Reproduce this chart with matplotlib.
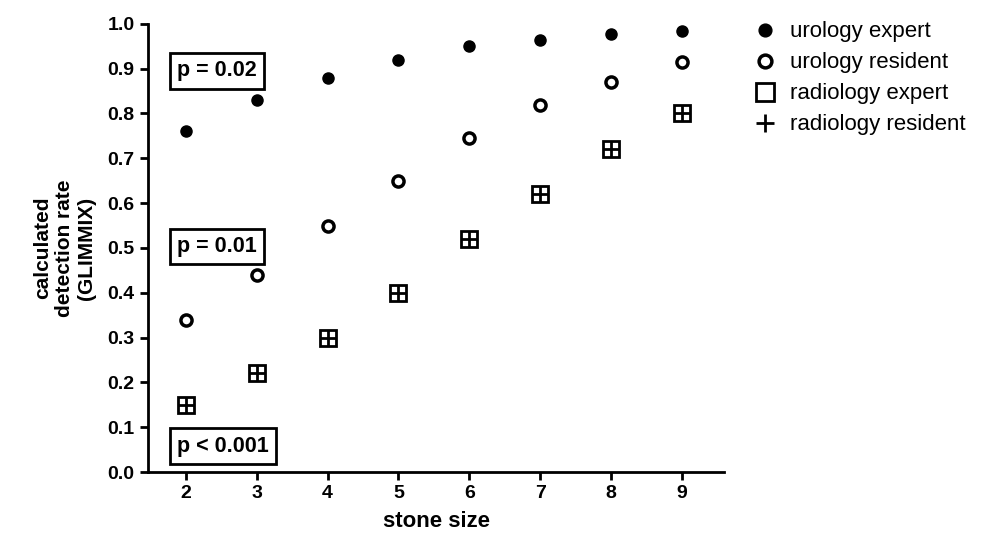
import matplotlib.pyplot as plt
import numpy as np

plt.rcParams['font.family'] = ['Liberation Sans', 'DejaVu Sans']

# stone sizes on x axis
stone_size = [2, 3, 4, 5, 6, 7, 8, 9]

# calculated detection rates
urology_expert = [0.76, 0.83, 0.88, 0.92, 0.95, 0.965, 0.978, 0.985]
urology_resident = [0.34, 0.44, 0.55, 0.65, 0.745, 0.82, 0.87, 0.915]
radiology_expert = [0.15, 0.22, 0.30, 0.40, 0.52, 0.62, 0.72, 0.80]
radiology_resident = [0.15, 0.22, 0.30, 0.40, 0.52, 0.62, 0.72, 0.80]

# p-value boxes (label, y position)
p_labels = ['p = 0.02', 'p = 0.01', 'p < 0.001']
p_y = [0.895, 0.504, 0.058]

fig = plt.figure(figsize=(9.91, 5.42), dpi=100)
ax = fig.add_axes([0.149, 0.129, 0.582, 0.827])

ax.plot(stone_size, urology_expert, 'o', color='black', markersize=8, linestyle='None', label='urology expert')
ax.plot(stone_size, urology_resident, 'o', markerfacecolor='white', markeredgecolor='black',
        markeredgewidth=2.5, markersize=8, linestyle='None', label='urology resident')
ax.plot(stone_size, radiology_expert, 's', markerfacecolor='white', markeredgecolor='black',
        markeredgewidth=2, markersize=11, linestyle='None', label='radiology expert')
ax.plot(stone_size, radiology_resident, '+', color='black', markeredgewidth=2,
        markersize=11, linestyle='None', label='radiology resident')

#boxed p-values on the left
for lab, y in zip(p_labels, p_y):
    ax.text(1.87, y, lab, fontsize=15.5, fontweight='bold', va='center', ha='left',
            bbox=dict(boxstyle='square,pad=0.33', facecolor='white', edgecolor='black', linewidth=2))

ax.set_xlim(1.46, 9.6)
ax.set_ylim(0, 1.0)
ax.set_xticks(stone_size)
ax.set_yticks(np.arange(0, 1.01, 0.1))
ax.set_yticklabels(['%.1f' % v for v in np.arange(0, 1.01, 0.1)])

for s in ['top', 'right']:
    ax.spines[s].set_visible(False)
for s in ['left', 'bottom']:
    ax.spines[s].set_linewidth(2)
ax.tick_params(width=2, length=6, labelsize=14)
for lbl in ax.get_xticklabels() + ax.get_yticklabels():
    lbl.set_fontweight('bold')

ax.set_xlabel('stone size', fontsize=16, fontweight='bold', labelpad=6)
ax.set_ylabel('calculated\ndetection rate\n(GLIMMIX)', fontsize=15, fontweight='bold', labelpad=8)

leg = ax.legend(loc='upper left', bbox_to_anchor=(1.012, 1.05), frameon=False, fontsize=16,
                handletextpad=0.55, labelspacing=0.45, handlelength=1.2, markerscale=1.15)

fig.savefig('out.png', dpi=100)
